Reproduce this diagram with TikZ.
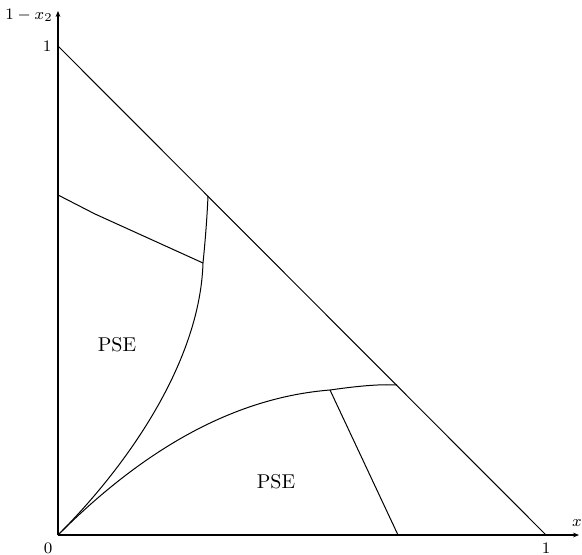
\documentclass[tikz,border=0pt]{standalone}
\usetikzlibrary{arrows.meta}
\begin{document}
\begin{tikzpicture}[x=0.5pt,y=-0.5pt,
  axis/.style={line width=0.6pt,-{Stealth[length=3pt,width=2.4pt]}},
  curve/.style={line width=0.5pt},
  lbl/.style={font=\footnotesize,inner sep=0pt}]
\useasboundingbox (0,0) rectangle (582,555);
\coordinate (O) at (58,535);
\coordinate (XE) at (579,535);
\coordinate (YE) at (58,11);
\coordinate (Y1) at (58,46);
\coordinate (X1) at (546,535);
\coordinate (A) at (208,196);
\coordinate (B) at (203,263);
\coordinate (C) at (58,195);
\coordinate (K) at (95,214);
\coordinate (D) at (397,385);
\coordinate (E) at (330,390);
\coordinate (F) at (398,535);
% axes
\draw[axis] (O) -- (XE);
\draw[axis] (O) -- (YE);
% diagonal
\draw[curve] (Y1) -- (X1);
% upper-left curve
\draw[curve] (O) .. controls (130,463) and (200,360) .. (B)
                 .. controls (205.5,238) and (207,218) .. (A);
\draw[curve] (C) -- (K) -- (B);
% lower curve
\draw[curve] (O) .. controls (140,453) and (230,398) .. (E)
                 .. controls (358,386) and (380,384) .. (D);
\draw[curve] (E) -- (F);
% labels
\node[lbl] (lx) at (577,523) {$x$};
\node[lbl] (ly) at (29,15) {$1-x_2$};
\node[lbl] (t1y) at (47,46) {$1$};
\node[lbl] (t1x) at (546,548) {$1$};
\node[lbl] (t0) at (48,548) {$0$};
\node (p1) at (117,345) {PSE};
\node (p2) at (276,482) {PSE};
\end{tikzpicture}
\end{document}
